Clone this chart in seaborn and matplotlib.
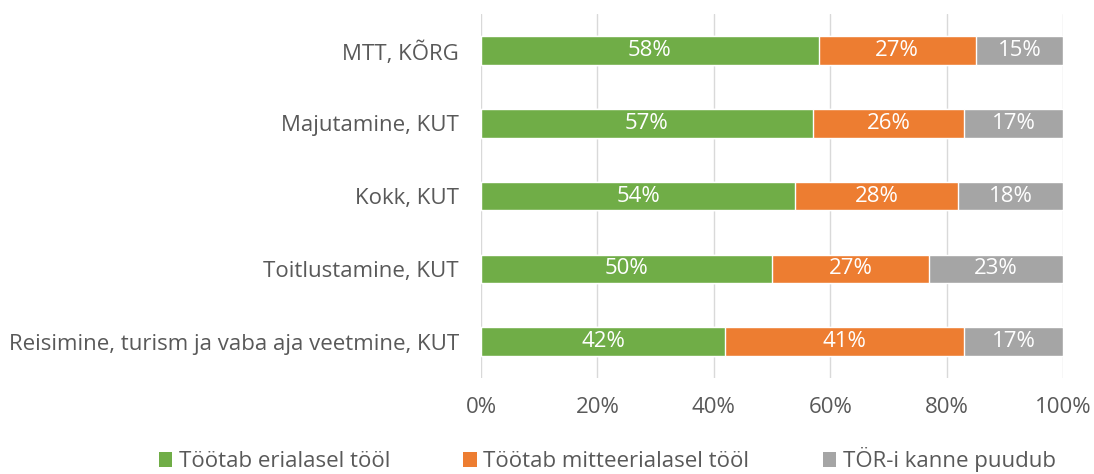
import matplotlib
matplotlib.use("Agg")
import matplotlib.pyplot as plt
import seaborn as sns
import pandas as pd
from matplotlib.patches import Patch

# andmed
categories = [
    "MTT, KÕRG",
    "Majutamine, KUT",
    "Kokk, KUT",
    "Toitlustamine, KUT",
    "Reisimine, turism ja vaba aja veetmine, KUT",
]
erialasel = [58, 57, 54, 50, 42]
mitteerialasel = [27, 26, 28, 27, 41]
puudub = [15, 17, 18, 23, 17]
series_names = ["Töötab erialasel tööl", "Töötab mitteerialasel tööl", "TÖR-i kanne puudub"]
colors = ["#70AD47", "#ED7D31", "#A5A5A5"]

sns.set_style("white")
plt.rcParams["font.family"] = ["Open Sans", "DejaVu Sans"]
FS = 16

df = pd.DataFrame({"cat": categories, "a": erialasel, "b": mitteerialasel, "c": puudub})
df["ab"] = df["a"] + df["b"]
df["abc"] = df["ab"] + df["c"]

fig = plt.figure(figsize=(10.94, 4.74), dpi=100)
ax = fig.add_axes([0.4397, 0.2025, 0.532, 0.7675])

# virnastatud tulbad: kõige pikem enne
for col, color in zip(["abc", "ab", "a"], colors[::-1]):
    sns.barplot(data=df, x=col, y="cat", color=color, width=0.39,
                saturation=1, ax=ax, orient="h", zorder=3)

# protsendid tulpade sees
for i, row in df.iterrows():
    starts = [0, row["a"], row["ab"]]
    vals = [row["a"], row["b"], row["c"]]
    for s, v in zip(starts, vals):
        ax.text(s + v / 2, i, f"{v}%", ha="center", va="center",
                color="white", fontsize=FS, zorder=4)

ax.set_xlim(0, 100)
ax.set_ylim(4.5, -0.5)
ax.set_xticks(range(0, 101, 20))
ax.set_xticklabels([f"{t}%" for t in range(0, 101, 20)])
ax.grid(axis="x", color="#D9D9D9", linewidth=1, zorder=0)
ax.grid(axis="y", visible=False)
for s in ax.spines.values():
    s.set_visible(False)
ax.set_xlabel("")
ax.set_ylabel("")
ax.tick_params(axis="x", colors="#595959", labelsize=FS, length=0, pad=14)
ax.tick_params(axis="y", colors="#595959", labelsize=FS, length=0, pad=16)

handles = [Patch(facecolor=c, edgecolor="none", label=n) for c, n in zip(colors, series_names)]
fig.legend(handles=handles, loc="center", bbox_to_anchor=(0.555, 0.03), ncol=3,
           frameon=False, fontsize=FS, labelcolor="#595959",
           handlelength=0.6, handleheight=0.6, handletextpad=0.3, columnspacing=3.3)

fig.savefig("out.png", dpi=100)
